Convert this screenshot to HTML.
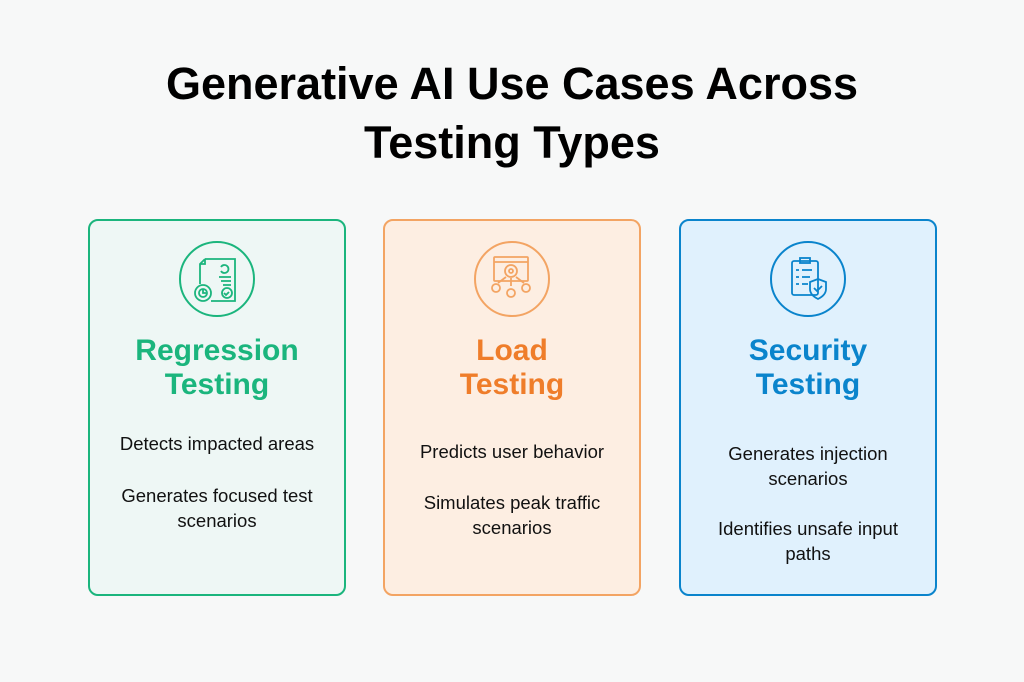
<!DOCTYPE html>
<html><head><style>
body{margin:0;width:1024px;height:682px;background:#f7f8f8;font-family:"Liberation Sans",sans-serif;position:relative;overflow:hidden}
h1{position:absolute;top:54px;left:0;width:1024px;margin:0;text-align:center;font-size:45px;line-height:59px;font-weight:bold;color:#000;letter-spacing:0px}
.card{position:absolute;top:219px;width:254px;height:373px;border:2px solid;border-radius:10px;box-sizing:content-box}
.ic{position:absolute;left:89px;top:20px;width:72px;height:72px;border:2px solid;border-radius:50%}
.t{position:absolute;top:113px;left:0;width:100%;text-align:center;font-weight:bold;font-size:30px;line-height:34px}
.b{position:absolute;left:0;width:100%;text-align:center;font-size:18.5px;line-height:25px;color:#111}
</style></head><body>
<h1>Generative AI Use Cases Across<br>Testing Types</h1>

<div class="card" style="left:88px;border-color:#1bb57d;background:#eef7f5">
 <div class="ic" style="border-color:#1bb57d">
  <svg width="72" height="72" viewBox="0 0 72 72" fill="none" stroke="#1bb57d" stroke-width="1.8"><path d="M24 16h30v42H30M24 16l-5 5v20M24 16v5h-5"/><path d="M40 24a4 4 0 1 1 0 4"/><path d="M38 34h12M40 38h10M42 42h8"/><circle cx="46" cy="50" r="5"/><path d="M43 50l2 2 3-3"/><circle cx="22" cy="50" r="8"/><circle cx="22" cy="50" r="4"/><path d="M22 46v4h3"/></svg>
 </div>
 <div class="t" style="color:#1bb57d">Regression<br>Testing</div>
 <div class="b" style="top:210px">Detects impacted areas</div>
 <div class="b" style="top:262px">Generates focused test<br>scenarios</div>
</div>

<div class="card" style="left:383px;border-color:#f3a463;background:#fdeee2">
 <div class="ic" style="border-color:#f3a463">
  <svg width="72" height="72" viewBox="0 0 72 72" fill="none" stroke="#f3a463" stroke-width="1.8"><rect x="18" y="14" width="34" height="24" rx="1"/><path d="M18 19h34"/><circle cx="35" cy="28" r="6"/><circle cx="35" cy="28" r="2"/><path d="M30 34l-8 6M35 35v8M40 34l8 6"/><circle cx="20" cy="45" r="4"/><circle cx="35" cy="50" r="4"/><circle cx="50" cy="45" r="4"/></svg>
 </div>
 <div class="t" style="color:#ef7d2a">Load<br>Testing</div>
 <div class="b" style="top:218px">Predicts user behavior</div>
 <div class="b" style="top:269px">Simulates peak traffic<br>scenarios</div>
</div>

<div class="card" style="left:679px;border-color:#0a84cc;background:#e0f1fd">
 <div class="ic" style="border-color:#0a84cc">
  <svg width="72" height="72" viewBox="0 0 72 72" fill="none" stroke="#0a84cc" stroke-width="1.8"><rect x="20" y="18" width="26" height="34" rx="2"/><rect x="28" y="15" width="10" height="5"/><path d="M24 27h3M30 27h10M24 34h3M30 34h8M24 41h3M30 41h6"/><path d="M46 36l8 3v7c0 5-4 8-8 10-4-2-8-5-8-10v-7z"/><path d="M42 45l3 3 5-5"/></svg>
 </div>
 <div class="t" style="color:#0a84cc">Security<br>Testing</div>
 <div class="b" style="top:220px">Generates injection<br>scenarios</div>
 <div class="b" style="top:295px">Identifies unsafe input<br>paths</div>
</div>
</body></html>
